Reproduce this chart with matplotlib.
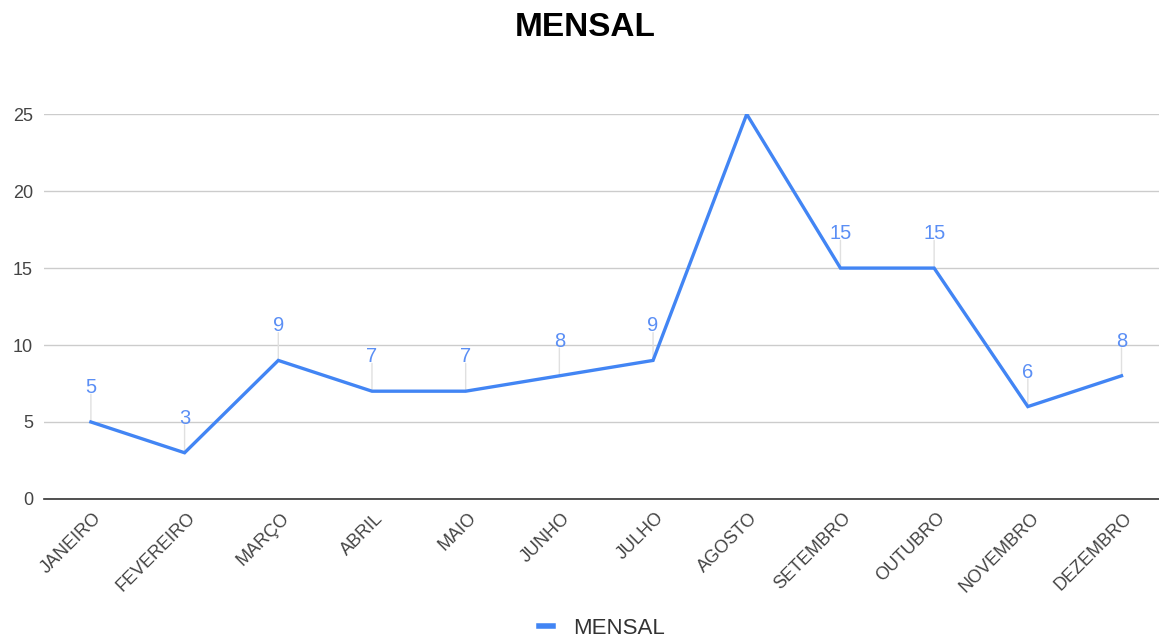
import matplotlib
matplotlib.use('Agg')
import matplotlib.pyplot as plt
from matplotlib.transforms import ScaledTranslation

plt.rcParams['font.family'] = ['Liberation Sans', 'DejaVu Sans']

meses = ['JANEIRO', 'FEVEREIRO', 'MARÇO', 'ABRIL', 'MAIO', 'JUNHO',
         'JULHO', 'AGOSTO', 'SETEMBRO', 'OUTUBRO', 'NOVEMBRO', 'DEZEMBRO']
valores = [5, 3, 9, 7, 7, 8, 9, 25, 15, 15, 6, 8]
# o rótulo de agosto não aparece no original (cortado no topo)
mostrar_rotulo = [True] * 7 + [False] + [True] * 4

azul = '#4285f4'

fig = plt.figure(figsize=(11.59, 6.38), dpi=100)
ax = fig.add_axes([0.038, 0.218, 0.962, 0.603])

x = list(range(len(meses)))
ax.plot(x, valores, color=azul, linewidth=2.4, label='MENSAL',
        solid_joinstyle='miter', zorder=3)

# rótulos dos valores com a linha guia cinza
for xi, v, ok in zip(x, valores, mostrar_rotulo):
    if not ok:
        continue
    ax.annotate('', xy=(xi, v), xytext=(0, 20), textcoords='offset points',
                arrowprops=dict(arrowstyle='-', color='#e0e0e0', lw=1,
                                shrinkA=0, shrinkB=0), zorder=2)
    ax.annotate(str(v), xy=(xi, v), xytext=(0, 18), textcoords='offset points',
                ha='center', va='bottom', color='#5b8ff5', fontsize=14.5)

ax.set_xlim(-0.5, 11.4)
ax.set_ylim(0, 25)
ax.set_yticks([0, 5, 10, 15, 20, 25])
ax.set_xticks(x)
ax.tick_params(axis='both', length=0, labelsize=13, labelcolor='#444444')
ax.tick_params(axis='x', pad=12)
ax.tick_params(axis='y', pad=8)
ax.set_xticklabels(meses, rotation=45, ha='right', va='center',
                   rotation_mode='anchor')
# empurra os rótulos do eixo x um pouco para a direita
desloc = ScaledTranslation(6 / 72, 0, fig.dpi_scale_trans)
for rot in ax.get_xticklabels():
    rot.set_transform(rot.get_transform() + desloc)
ax.grid(axis='y', color='#cccccc', linewidth=1)
ax.set_axisbelow(True)
for lado in ['top', 'right', 'left']:
    ax.spines[lado].set_visible(False)
ax.spines['bottom'].set_color('#333333')
ax.spines['bottom'].set_linewidth(1.2)
ax.spines['bottom'].set_zorder(4)

fig.text(0.505, 1 - 27 / 638, 'MENSAL', ha='center', va='center',
         fontsize=24, fontweight='bold', color='#000000')

leg = fig.legend(loc='center', bbox_to_anchor=(602 / 1159, 10 / 638), frameon=False,
                 fontsize=16, handlelength=0.6, handletextpad=0.9,
                 labelcolor='#333333', borderaxespad=0, borderpad=0)
for linha in leg.get_lines():
    linha.set_linewidth(4)

fig.savefig('out.png', dpi=100)
